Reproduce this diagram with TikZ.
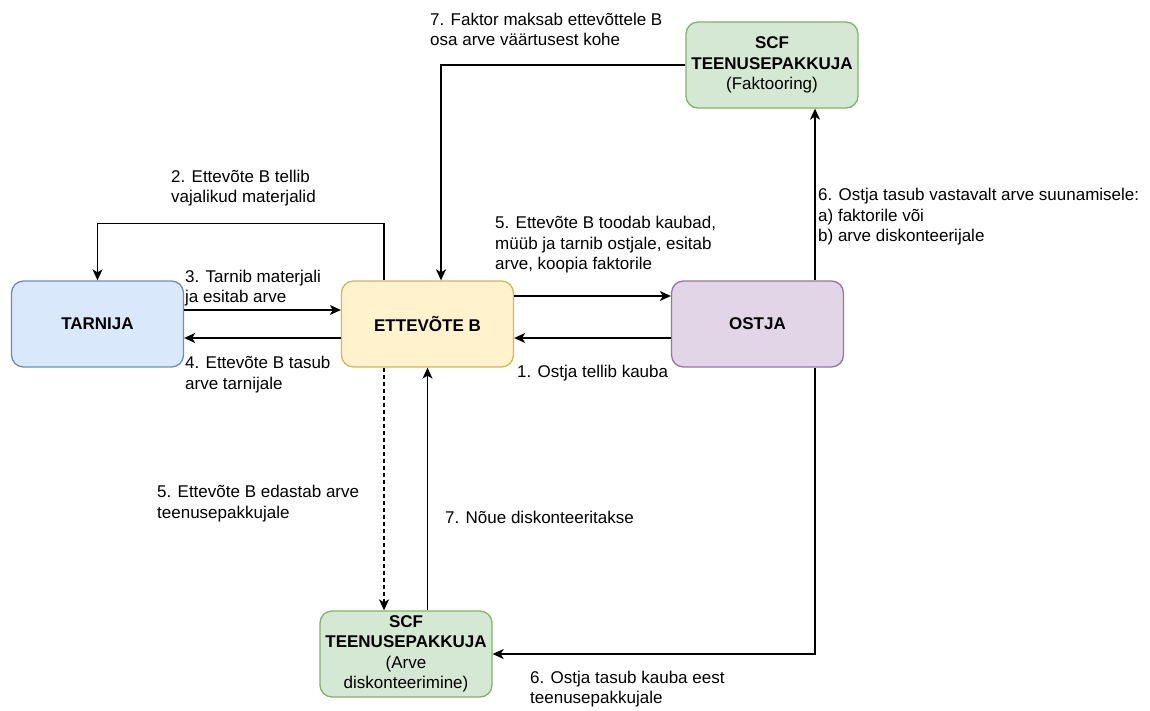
\documentclass[tikz,border=0pt]{standalone}
\usepackage{fontspec}
\setmainfont{Liberation Sans}
\usetikzlibrary{arrows.meta}
\definecolor{bluef}{HTML}{DAE8FC}\definecolor{blued}{HTML}{6C8EBF}
\definecolor{yelf}{HTML}{FFF2CC}\definecolor{yeld}{HTML}{D6B656}
\definecolor{purf}{HTML}{E1D5E7}\definecolor{purd}{HTML}{9673A6}
\definecolor{grnf}{HTML}{D5E8D4}\definecolor{grnd}{HTML}{82B366}
\tikzset{
  box/.style={draw, rounded corners=12pt, minimum width=172pt, minimum height=86pt,
    line width=1.3pt, align=center, inner sep=0pt,
    font=\fontsize{17}{20.5}\selectfont\bfseries},
  lbl/.style={anchor=west, align=left, inner sep=0pt, font=\fontsize{17}{20.5}\selectfont},
  arr/.style={draw=black, line width=1.4pt, -{Stealth[length=11pt,width=10pt,inset=3pt]}},
}
\begin{document}
\begin{tikzpicture}[x=1pt,y=-1pt]
\useasboundingbox (0,0) rectangle (1150,711);
\fill[white] (0,0) rectangle (1150,711);
% boxes
\node[box, fill=bluef, draw=blued] (tarnija) at (97.5,324) {TARNIJA};
\node[box, fill=yelf, draw=yeld] (ettevote) at (427.5,324) {ETTEVÕTE B};
\node[box, fill=purf, draw=purd] (ostja) at (757.5,324) {OSTJA};
\node[box, fill=grnf, draw=grnd] (scftop) at (772,65) {SCF\\TEENUSEPAKKUJA\\\mdseries(Faktooring)};
\node[box, fill=grnf, draw=grnd] (scfbot) at (406,654) {SCF\\TEENUSEPAKKUJA\\\mdseries(Arve\\\mdseries diskonteerimine)};
% connectors
\draw[arr] ([xshift=-43.5pt]ettevote.north) -- ++(0,-57) -| (tarnija.north);
\draw[arr] ([yshift=14pt]tarnija.east) -- ([yshift=14pt]ettevote.west);
\draw[arr] ([yshift=-14pt]ettevote.west) -- ([yshift=-14pt]tarnija.east);
\draw[arr] ([yshift=28pt]ettevote.east) -- ([yshift=28pt]ostja.west);
\draw[arr] ([yshift=-14pt]ostja.west) -- ([yshift=-14pt]ettevote.east);
\draw[arr] (scftop.west) -| ([xshift=13.5pt]ettevote.north);
\draw[arr] (scfbot.north -| ettevote.south) -- (ettevote.south);
\draw[arr, dash pattern=on 4pt off 3pt] ([xshift=-43.5pt]ettevote.south) -- ([xshift=-43.5pt]ettevote.south |- scfbot.north);
\draw[arr] ([xshift=57.5pt]ostja.north) -- ([xshift=57.5pt]ostja.north |- scftop.south);
\draw[arr] ([xshift=57.5pt]ostja.south) |- (scfbot.east);
% labels
\node[lbl] (l7top) at (430,29.5) {7. Faktor maksab ettevõttele B\\osa arve väärtusest kohe};
\node[lbl] (l2) at (171,188) {2. Ettevõte B tellib\\vajalikud materjalid};
\node[lbl] (l3) at (185,288) {3. Tarnib materjali\\ja esitab arve};
\node[lbl] (l4) at (185,374.5) {4. Ettevõte B tasub\\arve tarnijale};
\node[lbl] (l5top) at (495,245) {5. Ettevõte B toodab kaubad,\\müüb ja tarnib ostjale, esitab\\arve, koopia faktorile};
\node[lbl] (l1) at (517,373) {1. Ostja tellib kauba};
\node[lbl] (l6right) at (818,217) {6. Ostja tasub vastavalt arve suunamisele:\\a) faktorile või\\b) arve diskonteerijale};
\node[lbl] (l5left) at (157,503.5) {5. Ettevõte B edastab arve\\teenusepakkujale};
\node[lbl] (l7bot) at (445,517) {7. Nõue diskonteeritakse};
\node[lbl] (l6bot) at (530,689) {6. Ostja tasub kauba eest\\teenusepakkujale};
\end{tikzpicture}
\end{document}
